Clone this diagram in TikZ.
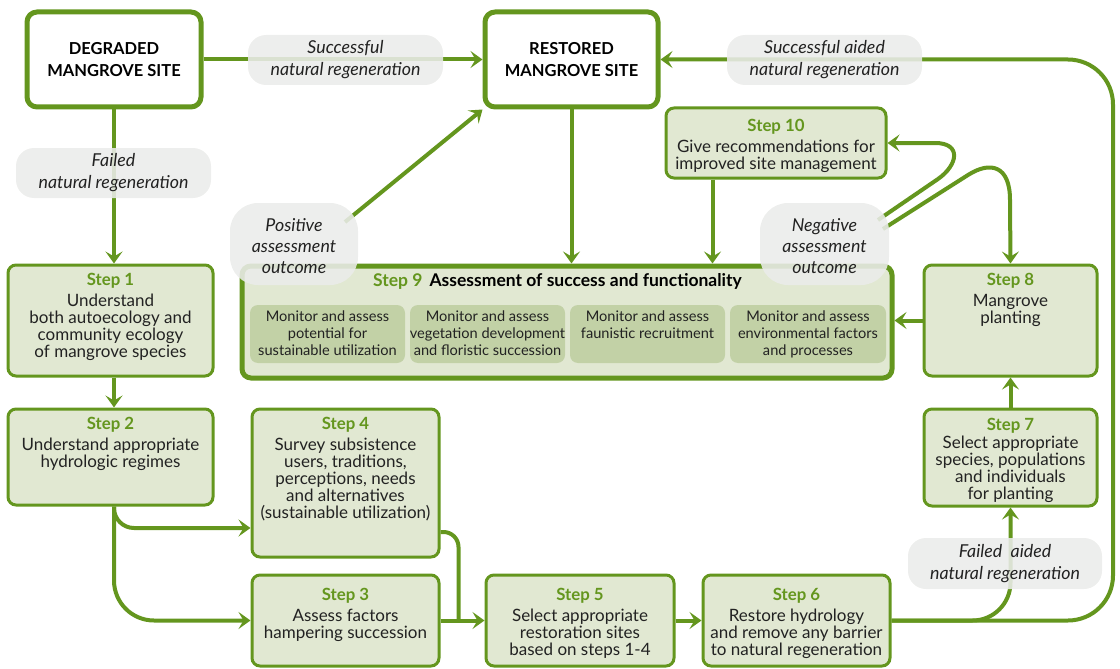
\documentclass[tikz,border=0pt]{standalone}
\usepackage{fontspec}
\setmainfont{Lato}
\usetikzlibrary{arrows.meta,calc}
\definecolor{sg}{HTML}{64961E}
\definecolor{stepfill}{HTML}{E1E8D2}
\definecolor{subfill}{HTML}{C2D1A6}
\definecolor{bub}{HTML}{EBECEA}
\definecolor{txt}{HTML}{222222}
\newcommand{\steplabel}[1]{{\fontsize{16.8}{17}\selectfont\bfseries\color{sg}#1}}
\tikzset{
  stepbox/.style={draw=sg, line width=3pt, fill=stepfill, rounded corners=8pt, inner sep=0pt},
  sitebox/.style={draw=sg, line width=5pt, fill=white, rounded corners=10pt, inner sep=0pt},
  bigbox/.style={draw=sg, line width=5pt, fill=stepfill, rounded corners=9pt, inner sep=0pt},
  subbox/.style={fill=subfill, rounded corners=8pt, inner sep=0pt},
  steptext/.style={font=\fontsize{17}{17}\selectfont, align=center, anchor=north, inner sep=0pt, text=txt},
  subtext/.style={font=\fontsize{14.6}{17}\selectfont, align=center, anchor=north, inner sep=0pt, text=txt},
  sitetext/.style={font=\fontsize{16.5}{22}\selectfont\bfseries, align=center, inner sep=0pt, text=black},
  bubble/.style={fill=bub, fill opacity=0.88, text opacity=1, rounded corners=18pt, inner sep=0pt,
    font=\fontsize{17.8}{22}\selectfont\itshape, align=center, text=txt},
  bigbubble/.style={fill=bub, fill opacity=0.88, rounded corners=28pt, inner sep=0pt},
  bigbubbletext/.style={inner sep=0pt, font=\fontsize{17.8}{21}\selectfont\itshape, align=center, text=txt},
  conn/.style={draw=sg, line width=4pt},
  arr/.style={conn, -{Stealth[length=12pt,width=17pt,inset=5pt]}},
}
\begin{document}
\begin{tikzpicture}[x=1pt,y=-1pt]
\useasboundingbox (0,0) rectangle (1120,669);

% boxes
\node[sitebox, minimum width=174pt, minimum height=95pt] (degraded) at (114,59.5) {};
\node[sitebox, minimum width=173pt, minimum height=95pt] (restored) at (571.5,59.5) {};
\node[stepbox, minimum width=205pt, minimum height=111pt] (step1) at (110.5,320.5) {};
\node[stepbox, minimum width=205pt, minimum height=96pt] (step2) at (110.5,457) {};
\node[stepbox, minimum width=187pt, minimum height=148pt] (step4) at (345.5,483) {};
\node[stepbox, minimum width=187pt, minimum height=91pt] (step3) at (345.5,620.5) {};
\node[stepbox, minimum width=188pt, minimum height=91pt] (step5) at (580,620.5) {};
\node[stepbox, minimum width=187pt, minimum height=91pt] (step6) at (796.5,620.5) {};
\node[stepbox, minimum width=173pt, minimum height=97pt] (step7) at (1010.5,457.5) {};
\node[stepbox, minimum width=173pt, minimum height=111pt] (step8) at (1010.5,320.5) {};
\node[stepbox, minimum width=220pt, minimum height=70pt] (step10) at (776,143) {};
\node[bigbox, minimum width=650pt, minimum height=112pt] (step9) at (567,322) {};
\node[subbox, minimum width=155pt, minimum height=58pt] (sub1) at (327.5,334) {};
\node[subbox, minimum width=155pt, minimum height=58pt] (sub2) at (487.5,334) {};
\node[subbox, minimum width=155pt, minimum height=58pt] (sub3) at (647.5,334) {};
\node[subbox, minimum width=156pt, minimum height=58pt] (sub4) at (808,334) {};

% texts
\node[sitetext] (degradedt) at (degraded.center) {DEGRADED\\MANGROVE SITE};
\node[sitetext] (restoredt) at (restored.center) {RESTORED\\MANGROVE SITE};
\node[steptext] (step1t) at ($(step1.north)+(0,10)$) {\steplabel{Step 1}\\[4pt]Understand\\both autoecology and\\community ecology\\of mangrove species};
\node[steptext] (step2t) at ($(step2.north)+(0,9.5)$) {\steplabel{Step 2}\\[4pt]Understand appropriate\\hydrologic regimes};
\node[steptext] (step4t) at ($(step4.north)+(0,9.5)$) {\steplabel{Step 4}\\[4pt]Survey subsistence\\users, traditions,\\perceptions, needs\\and alternatives\\(sustainable utilization)};
\node[steptext] (step3t) at ($(step3.north)+(0,15)$) {\steplabel{Step 3}\\[4pt]Assess factors\\hampering succession};
\node[steptext] (step5t) at ($(step5.north)+(0,15)$) {\steplabel{Step 5}\\[4pt]Select appropriate\\restoration sites\\based on steps 1-4};
\node[steptext] (step6t) at ($(step6.north)+(0,15)$) {\steplabel{Step 6}\\[4pt]Restore hydrology\\and remove any barrier\\to natural regeneration};
\node[steptext] (step7t) at ($(step7.north)+(0,10.5)$) {\steplabel{Step 7}\\[1pt]Select appropriate\\species, populations\\and individuals\\for planting};
\node[steptext] (step8t) at ($(step8.north)+(0,10)$) {\steplabel{Step 8}\\[4pt]Mangrove\\planting};
\node[steptext] (step10t) at ($(step10.north)+(0,12.5)$) {\steplabel{Step 10}\\[4pt]Give recommendations for\\improved site management};
\node[font=\fontsize{17.5}{20}\selectfont\bfseries, inner sep=0pt] (step9t) at (557.5,281) {\textcolor{sg}{Step 9}\hspace{7pt}Assessment of success and functionality};
\node[subtext] (sub1t) at ($(sub1.north)+(0,6)$) {Monitor and assess\\potential for\\sustainable utilization};
\node[subtext] (sub2t) at ($(sub2.north)+(0,6)$) {Monitor and assess\\vegetation development\\and floristic succession};
\node[subtext] (sub3t) at ($(sub3.north)+(0,6)$) {Monitor and assess\\faunistic recruitment};
\node[subtext] (sub4t) at ($(sub4.north)+(0,6)$) {Monitor and assess\\environmental factors\\and processes};

% helper coordinates
\coordinate (loopB) at (1113,620.5);
\coordinate (loopT) at (1113,59.5);
\coordinate (s10out) at ($(step10.south west)+(48,0)$);
\coordinate (posS) at (345,222);
\coordinate (negA) at (878,220);
\coordinate (negB) at (883,229);
\coordinate (join) at ($(step3.east)+(18,0)$);

% connectors
\draw[arr] (degraded.east) -- (restored.west);
\draw[arr] (degraded.south) -- (degraded.south |- step1.north);
\draw[arr] (step1.south -| degraded.south) -- (step2.north -| degraded.south);
\draw[arr, rounded corners=20pt] (step2.south -| degraded.south) |- ([yshift=-45pt]step4.west);
\draw[arr, rounded corners=40pt] (step2.south -| degraded.south) |- (step3.west);
\draw[conn, rounded corners=15pt] ([yshift=-49pt]step4.east) -| (join);
\draw[arr] (step3.east) -- (step5.west);
\draw[arr] (step5.east) -- (step6.west);
\draw[arr, rounded corners=38pt] (step6.east) -| (step7.south);
\draw[arr, rounded corners=45pt] (step6.east) -- (loopB) -- (loopT) -- (restored.east);
\draw[arr] (step7.north) -- (step8.south);
\draw[arr] (step8.west) -- (step8.west -| step9.east);
\draw[arr] (restored.south) -- (restored.south |- step9.north);
\draw[arr] (s10out) -- (s10out |- step9.north);
\draw[arr] (posS) -- (restored.south west);
\draw[arr] (negA) -- (938,179) .. controls (958,165) and (962,143) .. (935,143) -- (step10.east);
\draw[arr] (negB) -- (968,175) .. controls (990,161) and (1010,165) .. (1010,200) -- (step8.north);

% bubbles
\node[bubble, minimum width=195pt, minimum height=50pt] (b1) at (345.5,60) {Successful\\natural regeneration};
\node[bubble, minimum width=195pt, minimum height=50pt] (b2) at (824.5,60) {Successful aided\\natural regeneration};
\node[bubble, minimum width=195pt, minimum height=50pt] (b3) at (113.5,173) {Failed\\natural regeneration};
\node[bigbubble, minimum width=128pt, minimum height=82pt] (b4) at (294,244) {};
\node[bigbubbletext] (b4t) at (294,246) {Positive\\assessment\\outcome};
\node[bigbubble, minimum width=129pt, minimum height=82pt] (b5) at (824.5,244) {};
\node[bigbubbletext] (b5t) at (824.5,246) {Negative\\assessment\\outcome};
\node[bubble, minimum width=194pt, minimum height=51pt] (b6) at (1005,563.5) {Failed\ \ aided\\natural regeneration};
\end{tikzpicture}
\end{document}
